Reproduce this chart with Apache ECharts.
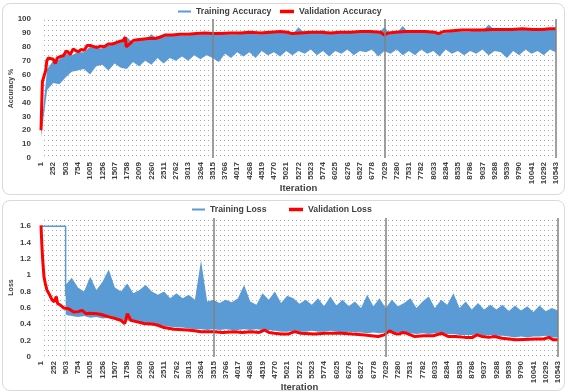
<!DOCTYPE html>
<html>
<head>
<meta charset="utf-8">
<script src="https://cdn.jsdelivr.net/npm/echarts@6/dist/echarts.min.js"></script>
<style>
html, body { margin: 0; padding: 0; background: #fff; }
#wrap { position: relative; width: 567px; height: 392px; }
.panel { position: absolute; left: 2px; width: 561px; border: 1px solid #d9d9d9; border-radius: 8px; background: #fff; }
#main { position: absolute; left: 0; top: 0; width: 567px; height: 392px; }
</style>
</head>
<body>
<div id="wrap">
  <div class="panel" style="top:3px;height:190px"></div>
  <div class="panel" style="top:200px;height:189px"></div>
  <div id="main"></div>
</div>
<script>
// iterations / axis
var lastIter = 10543;
var tickStep = 251;
var epochMarks = [3515, 7029, 10543];

// training curves are read as a band (lower / upper edge) every half tick
var bandIter = [];
for (var k = 0; k < 85; k++) bandIter.push(Math.round(1 + k * (lastIter - 1) / 84));

var accTrainLow = [
  15, 49, 54, 53, 58, 62, 63, 64, 60, 66,
  67, 63, 68, 65, 64, 69, 66, 70, 67, 72,
  68, 72, 70, 73, 70, 74, 71, 74, 72, 69,
  75, 72, 76, 73, 76, 72, 77, 74, 76, 73,
  77, 74, 77, 75, 78, 74, 77, 73, 77, 75,
  78, 74, 77, 76, 78, 73, 77, 75, 78, 74,
  77, 74, 78, 75, 77, 73, 78, 75, 77, 74,
  77, 75, 78, 74, 77, 76, 72, 77, 74, 78,
  75, 77, 74, 78, 76
];
var accTrainHigh = [
  20, 64, 70, 71, 75, 74, 76, 76, 80, 79,
  79, 81, 82, 83, 87, 83, 85, 85, 89, 86,
  88, 88, 88, 88, 88, 89, 89, 89, 89, 91,
  89, 89, 89, 90, 90, 89, 89, 90, 91, 90,
  91, 89, 94, 90, 90, 90, 92, 89, 90, 90,
  90, 90, 91, 90, 90, 90, 94, 89, 90, 95,
  90, 91, 90, 91, 90, 89, 90, 91, 91, 91,
  91, 93, 91, 96, 92, 92, 92, 92, 93, 92,
  93, 92, 92, 92, 92
];

var accValIter = [
  1, 17, 30, 47, 78, 98, 120, 150, 190, 252,
  293, 334, 395, 456, 518, 559, 600, 661, 723, 764,
  825, 886, 948, 1009, 1091, 1153, 1214, 1296, 1378, 1460,
  1541, 1623, 1685, 1726, 1746, 1767, 1828, 1890, 1972, 2074,
  2197, 2340, 2443, 2545, 2688, 2852, 3016, 3180, 3364, 3507,
  3671, 3876, 4081, 4286, 4490, 4695, 4900, 5043, 5146, 5310,
  5514, 5719, 5924, 6129, 6333, 6538, 6743, 6948, 7030, 7112,
  7256, 7460, 7665, 7870, 8054, 8136, 8238, 8423, 8628, 8832,
  9037, 9242, 9446, 9651, 9856, 10061, 10266, 10409, 10543
];
var accVal = [
  20, 40, 55, 57, 57, 63, 70, 72, 73, 71,
  68, 72, 73, 73.5, 77, 76, 74.5, 78.5, 77, 76.5,
  78, 77.5, 81, 81, 80, 79.5, 80.5, 80, 82, 82,
  83, 84, 84.5, 87, 80, 79.5, 82.5, 84.5, 85, 85.5,
  86, 86, 87, 88.5, 88.5, 89, 89, 89.5, 90, 89.5,
  89.5, 90, 90, 90.5, 90, 90.5, 91, 90.5, 89.5, 90,
  90.5, 90.5, 90, 90.5, 90.5, 91, 91, 90.5, 88.5, 90,
  90.5, 91, 91, 91, 90.5, 89.5, 91, 91.5, 92, 92,
  92, 92.5, 92.5, 92.5, 93, 92.5, 92.5, 93, 93
];

// training loss: flat at the start, then a band from iteration 503
var lossHeadIter = [1, 503, 503];
var lossHead = [1.6, 1.6, 0.75];
var lossBandStart = 4;
var lossTrainLow = [
  0.52, 0.50, 0.49, 0.50, 0.48, 0.49, 0.47, 0.48, 0.46, 0.44,
  0.45, 0.44, 0.42, 0.42, 0.41, 0.40, 0.38, 0.37, 0.36, 0.36,
  0.35, 0.34, 0.34, 0.33, 0.34, 0.33, 0.34, 0.33, 0.33, 0.34,
  0.33, 0.34, 0.33, 0.33, 0.32, 0.31, 0.31, 0.32, 0.31, 0.31,
  0.32, 0.31, 0.31, 0.32, 0.31, 0.30, 0.31, 0.30, 0.30, 0.29,
  0.30, 0.29, 0.30, 0.31, 0.30, 0.31, 0.29, 0.28, 0.29, 0.28,
  0.29, 0.30, 0.28, 0.28, 0.27, 0.27, 0.27, 0.28, 0.26, 0.27,
  0.26, 0.26, 0.25, 0.24, 0.25, 0.24, 0.25, 0.25, 0.26, 0.24,
  0.24
];
var lossTrainHigh = [
  0.88, 0.97, 0.85, 0.80, 0.98, 0.82, 0.92, 1.07, 0.85, 0.80,
  0.90, 0.78, 0.82, 0.88, 0.80, 0.76, 0.80, 0.72, 0.78, 0.72,
  0.76, 0.70, 1.18, 0.68, 0.70, 0.66, 0.70, 0.67, 0.72, 0.88,
  0.68, 0.64, 0.78, 0.70, 0.80, 0.66, 0.75, 0.72, 0.65, 0.70,
  0.64, 0.72, 0.62, 0.74, 0.63, 0.70, 0.62, 0.68, 0.60, 0.76,
  0.62, 0.72, 0.60, 0.70, 0.62, 0.66, 0.72, 0.60, 0.68, 0.74,
  0.60, 0.70, 0.64, 0.78, 0.60, 0.68, 0.58, 0.66, 0.58, 0.64,
  0.58, 0.64, 0.56, 0.63, 0.57, 0.62, 0.55, 0.63, 0.56, 0.60,
  0.57
];

var lossValIter = [
  1, 20, 40, 62, 88, 122, 177, 225, 272, 313,
  340, 395, 463, 566, 668, 760, 839, 920, 1000, 1146,
  1230, 1419, 1520, 1624, 1706, 1730, 1760, 1790, 1828, 1965,
  2100, 2305, 2400, 2510, 2715, 2989, 3130, 3262, 3534, 3700,
  3943, 4100, 4285, 4450, 4557, 4650, 4762, 4900, 5036, 5172,
  5300, 5580, 5800, 6130, 6350, 6600, 6877, 7000, 7110, 7200,
  7287, 7380, 7459, 7623, 7800, 8000, 8175, 8312, 8450, 8650,
  8800, 8890, 9000, 9130, 9250, 9403, 9550, 9670, 9850, 10083,
  10250, 10356, 10450, 10543
];
var lossVal = [
  1.61, 1.35, 1.15, 0.98, 0.90, 0.82, 0.76, 0.70, 0.675, 0.74,
  0.655, 0.635, 0.60, 0.59, 0.55, 0.555, 0.57, 0.53, 0.535, 0.53,
  0.52, 0.485, 0.47, 0.45, 0.41, 0.45, 0.53, 0.50, 0.45, 0.43,
  0.41, 0.40, 0.385, 0.36, 0.34, 0.33, 0.32, 0.31, 0.31, 0.30,
  0.31, 0.30, 0.31, 0.30, 0.33, 0.30, 0.29, 0.28, 0.28, 0.31,
  0.29, 0.28, 0.29, 0.29, 0.28, 0.27, 0.25, 0.27, 0.32, 0.29,
  0.28, 0.30, 0.29, 0.25, 0.26, 0.26, 0.29, 0.25, 0.25, 0.24,
  0.24, 0.27, 0.25, 0.24, 0.25, 0.23, 0.22, 0.21, 0.215, 0.22,
  0.22, 0.24, 0.21, 0.21
];

var blue = '#5b9bd5';
var red = '#ff0000';
var txt = '#404040';
var font = 'Liberation Sans';

// dotted plot-area fill (white tile with one grey dot)
var dots = document.createElement('canvas');
dots.width = 4; dots.height = 5;
var g = dots.getContext('2d');
g.fillStyle = '#ffffff';
g.fillRect(0, 0, 4, 5);
g.fillStyle = '#a8a8a8';
g.fillRect(0, 0, 1, 1);
var dotFill = { image: dots, repeat: 'repeat' };

// axis value = iteration - 1 so ticks fall on 1, 252, 503 ...
function pairs(iters, vals) {
  return vals.map(function (v, i) { return [iters[i] - 1, v]; });
}

// band = blue area under the upper edge, then the dotted fill under the lower edge
function bandSeries(name, idx, iters, low, high) {
  return [{
    name: name, type: 'line', xAxisIndex: idx, yAxisIndex: idx,
    symbol: 'none', color: blue,
    lineStyle: { width: 0 },
    areaStyle: { color: blue, opacity: 1, origin: 'start' },
    data: pairs(iters, high)
  }, {
    name: name + ' low', type: 'line', xAxisIndex: idx, yAxisIndex: idx,
    symbol: 'none', lineStyle: { width: 0 },
    areaStyle: { color: dotFill, opacity: 1, origin: 'start' },
    data: pairs(iters, low),
    markLine: {
      silent: true, symbol: ['none', 'none'], label: { show: false },
      lineStyle: { color: '#808080', type: 'solid', width: 1.5 },
      data: epochMarks.map(function (m) { return { xAxis: m - 1 }; })
    }
  }];
}

function xAxisOf(idx) {
  return {
    type: 'value', gridIndex: idx, min: 0, max: lastIter - 1, interval: tickStep,
    axisLine: { show: false }, axisTick: { show: false }, splitLine: { show: false },
    axisLabel: {
      rotate: 90, margin: 4, fontSize: 8, fontWeight: 'bold', color: txt, fontFamily: font,
      formatter: function (v) { return v + 1; }
    },
    name: 'Iteration', nameLocation: 'middle', nameGap: 25, nameMoveOverlap: false,
    nameTextStyle: { fontSize: 9.5, fontWeight: 'bold', color: txt, fontFamily: font }
  };
}

function legendOf(name, left, top, w, h, color) {
  return {
    data: [{ name: name, icon: 'rect', itemStyle: { color: color } }],
    left: left, top: top, padding: 0, itemWidth: w, itemHeight: h, selectedMode: false,
    textStyle: { fontSize: 8.7, fontWeight: 'bold', color: txt, fontFamily: font }
  };
}

var myChart = echarts.init(document.getElementById('main'));
var option = {
  animation: false,
  grid: [
    { left: 41, right: 11, top: 19, height: 139, show: true, borderWidth: 0,
      outerBoundsMode: 'none', backgroundColor: dotFill },
    { left: 41, right: 9, top: 218, height: 139, show: true, borderWidth: 0,
      outerBoundsMode: 'none', backgroundColor: dotFill }
  ],
  legend: [
    legendOf('Training Accuracy', 178, 7, 13, 2, blue),
    legendOf('Validation Accuracy', 280, 7, 14, 3.5, red),
    legendOf('Training Loss', 192, 205, 13, 2, blue),
    legendOf('Validation Loss', 289, 205, 14, 3.5, red)
  ],
  xAxis: [xAxisOf(0), xAxisOf(1)],
  yAxis: [{
    type: 'value', gridIndex: 0, min: 0, max: 100, interval: 10,
    axisLine: { show: false }, axisTick: { show: false }, splitLine: { show: false },
    axisLabel: { margin: 10, fontSize: 8, fontWeight: 'bold', color: txt, fontFamily: font },
    name: 'Accuracy %', nameLocation: 'middle', nameGap: 26, nameMoveOverlap: false,
    nameTextStyle: { fontSize: 7, fontWeight: 'bold', color: txt, fontFamily: font }
  }, {
    type: 'value', gridIndex: 1, min: 0, max: 1.7, interval: 0.2,
    axisLine: { show: false }, axisTick: { show: false }, splitLine: { show: false },
    axisLabel: { margin: 10, fontSize: 8, fontWeight: 'bold', color: txt, fontFamily: font, showMaxLabel: false },
    name: 'Loss', nameLocation: 'middle', nameGap: 26, nameMoveOverlap: false,
    nameTextStyle: { fontSize: 7, fontWeight: 'bold', color: txt, fontFamily: font }
  }],
  series: [].concat(
    bandSeries('Training Accuracy', 0, bandIter, accTrainLow, accTrainHigh),
    [{
      name: 'Validation Accuracy', type: 'line', xAxisIndex: 0, yAxisIndex: 0,
      symbol: 'none', color: red, lineStyle: { color: red, width: 3 },
      data: pairs(accValIter, accVal)
    }],
    bandSeries('Training Loss', 1, bandIter.slice(lossBandStart), lossTrainLow, lossTrainHigh),
    [{
      name: 'Training Loss', type: 'line', xAxisIndex: 1, yAxisIndex: 1,
      symbol: 'none', color: blue, lineStyle: { color: blue, width: 1.5 },
      data: pairs(lossHeadIter, lossHead)
    }, {
      name: 'Validation Loss', type: 'line', xAxisIndex: 1, yAxisIndex: 1,
      symbol: 'none', color: red, lineStyle: { color: red, width: 3 },
      data: pairs(lossValIter, lossVal)
    }]
  )
};
myChart.setOption(option);
window.onresize = myChart.resize;
</script>
</body>
</html>
